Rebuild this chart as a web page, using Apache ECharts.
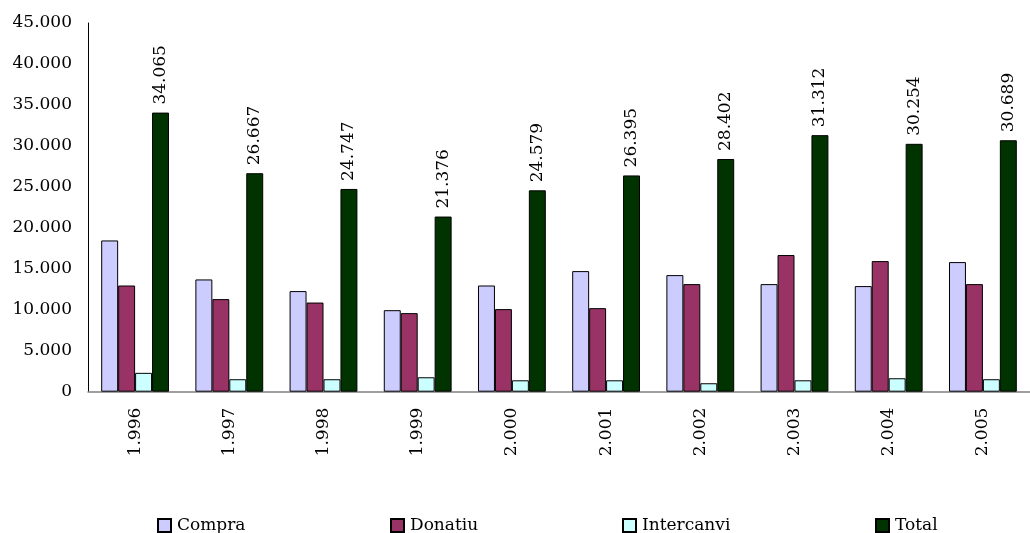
<!DOCTYPE html>
<html>
<head>
<meta charset="utf-8">
<script src="https://cdn.jsdelivr.net/npm/echarts@6/dist/echarts.min.js"></script>
<style>html,body{margin:0;padding:0;background:#fff}#c{width:1030px;height:533px}</style>
</head>
<body>
<div id="c"></div>
<script>
const categories = ['1.996','1.997','1.998','1.999','2.000','2.001','2.002','2.003','2.004','2.005'];
const compra     = [18460, 13700, 12280, 9950, 12960, 14720, 14230, 13130, 12890, 15820];
const donatiu    = [12960, 11300, 10880, 9590, 10080, 10200, 13130, 16680, 15940, 13130];
const intercanvi = [2300, 1520, 1520, 1760, 1390, 1390, 1030, 1390, 1640, 1520];
const total      = [34065, 26667, 24747, 21376, 24579, 26395, 28402, 31312, 30254, 30689];
const seriesNames = ['Compra','Donatiu','Intercanvi','Total'];
const colors = ['#CCCCFF','#993366','#CCFFFF','#003300'];

function fmt(v){
  const s = String(Math.round(v));
  return s.replace(/\B(?=(\d{3})+(?!\d))/g, '.');
}

const font = "'DejaVu Serif', serif";
const chart = echarts.init(document.getElementById('c'), null, {renderer:'canvas'});
const dataArr = [compra, donatiu, intercanvi, total];
const legendLefts = [152, 385, 617, 870];

chart.setOption({
  animation: false,
  backgroundColor: '#fff',
  textStyle: {fontFamily: font, color: '#000'},
  grid: {left: 88, top: 23, width: 954, bottom: 141.3, containLabel: false},
  legend: seriesNames.map((n, i) => ({
    data: [n], left: legendLefts[i], top: 512,
    icon: 'rect', itemWidth: 13, itemHeight: 13, itemGap: 0,
    textStyle: {fontFamily: font, fontSize: 17, color: '#000', padding: [0,0,0,1]},
    selectedMode: false
  })),
  xAxis: {
    type: 'category', data: categories,
    axisLine: {lineStyle: {color: '#808080', width: 1.5}},
    axisTick: {show: false},
    axisLabel: {rotate: 90, margin: 16, fontFamily: font, fontSize: 17, color: '#000'}
  },
  yAxis: {
    type: 'value', min: 0, max: 45000, interval: 5000,
    axisLine: {show: true, lineStyle: {color: '#000', width: 1}},
    axisTick: {show: false},
    splitLine: {show: false},
    axisLabel: {margin: 16, fontFamily: font, fontSize: 17, color: '#000', formatter: fmt}
  },
  series: seriesNames.map((n, i) => ({
    name: n, type: 'bar', data: dataArr[i],
    barGap: '0%', barCategoryGap: '28%',
    itemStyle: {color: colors[i], borderColor: '#000', borderWidth: 1},
    label: i === 3 ? {
      show: true, position: 'top', rotate: 90, distance: 8,
      align: 'left', verticalAlign: 'middle',
      fontFamily: font, fontSize: 17, color: '#000',
      formatter: p => fmt(p.value)
    } : {show: false}
  }))
});
</script>
</body>
</html>
